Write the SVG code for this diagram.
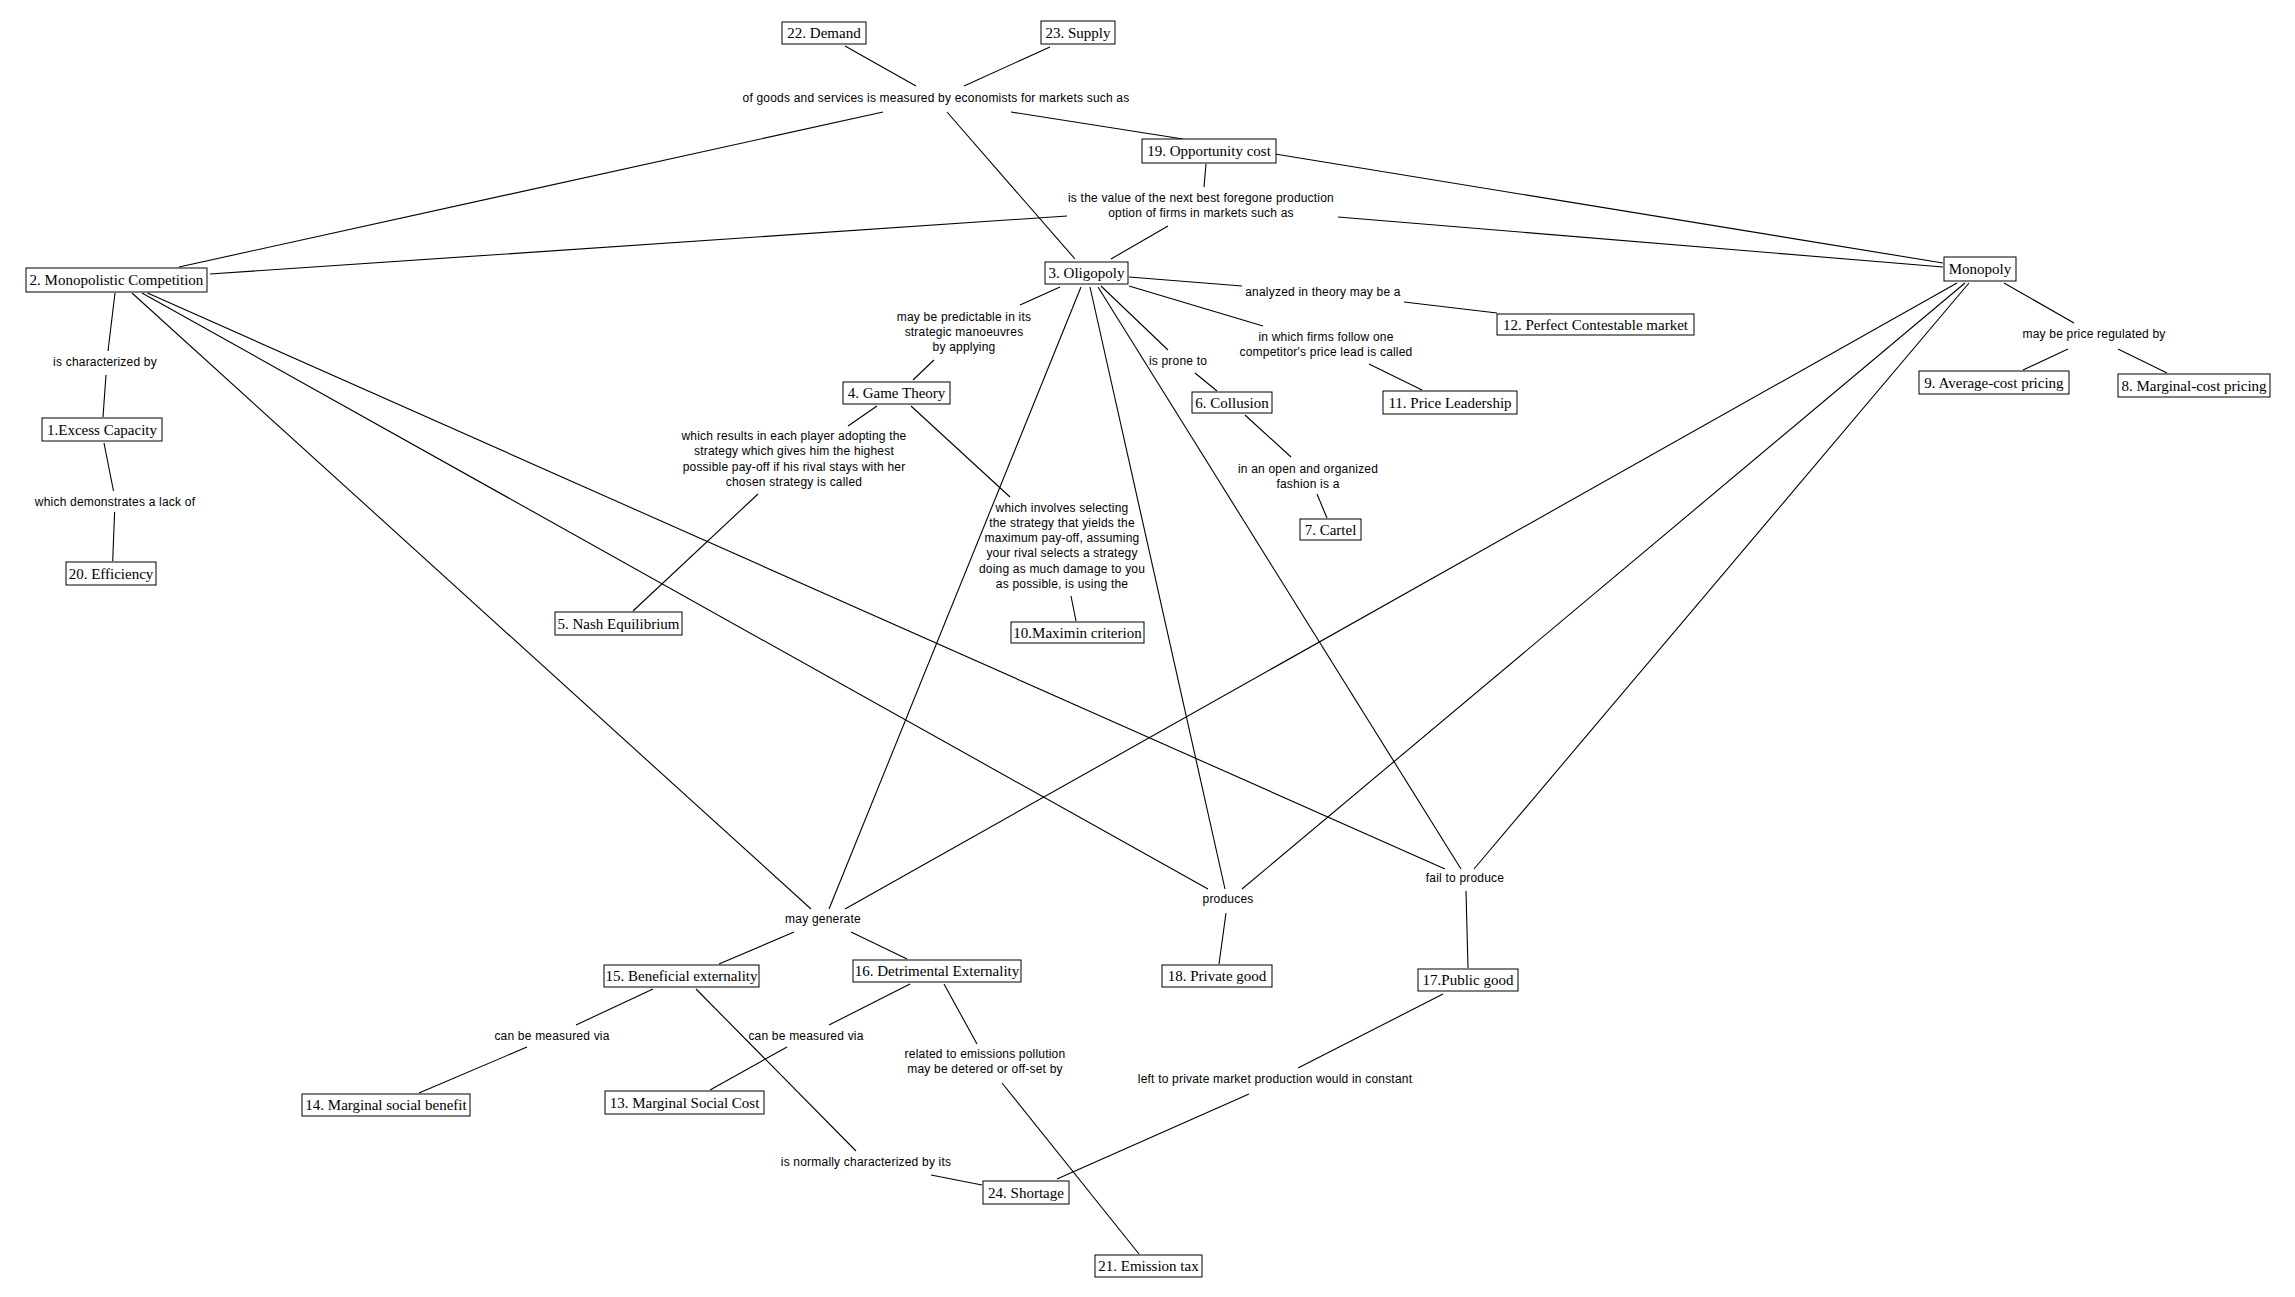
<svg xmlns="http://www.w3.org/2000/svg" width="2295" height="1297" viewBox="0 0 2295 1297">
<style>
.bg{fill:#fff}
.n rect{fill:#fff;stroke:#000;stroke-width:1}
.n text{font-family:"Liberation Serif","Times New Roman",serif;font-size:15px;fill:#000;text-anchor:middle}
.lb text{font-family:"Liberation Sans",Arial,sans-serif;font-size:12px;letter-spacing:0.2px;fill:#000;text-anchor:middle}
#connectors line{stroke:#000;stroke-width:1.1;fill:none}
</style>
<rect class="bg" x="0" y="0" width="2295" height="1297"/>
<g id="connectors">
<line x1="179" y1="267" x2="883" y2="112"/>
<line x1="210" y1="274" x2="1067" y2="216"/>
<line x1="115" y1="293" x2="108" y2="351"/>
<line x1="106" y1="375" x2="103" y2="417"/>
<line x1="132" y1="293" x2="811" y2="909"/>
<line x1="142" y1="293" x2="1208" y2="889"/>
<line x1="147.5" y1="293" x2="1445" y2="869"/>
<line x1="845" y1="46" x2="916" y2="86"/>
<line x1="1050" y1="47" x2="964" y2="86"/>
<line x1="947" y1="112" x2="1075" y2="259"/>
<line x1="1011" y1="112" x2="1183" y2="139"/>
<line x1="1206" y1="164" x2="1204" y2="187"/>
<line x1="1168" y1="226" x2="1111" y2="259"/>
<line x1="1338" y1="217" x2="1943" y2="267"/>
<line x1="1275" y1="154" x2="1943" y2="263"/>
<line x1="1060" y1="287" x2="1020" y2="305"/>
<line x1="934" y1="360" x2="913" y2="380"/>
<line x1="877" y1="406" x2="848" y2="426"/>
<line x1="758" y1="494" x2="633" y2="611"/>
<line x1="911" y1="406" x2="1010" y2="497"/>
<line x1="1071" y1="596" x2="1076" y2="621"/>
<line x1="1081" y1="287" x2="829" y2="909"/>
<line x1="1090" y1="287" x2="1225" y2="889"/>
<line x1="1098" y1="287" x2="1461" y2="869"/>
<line x1="1101" y1="286" x2="1168" y2="350"/>
<line x1="1195" y1="373" x2="1217" y2="391"/>
<line x1="1245" y1="415" x2="1291" y2="457"/>
<line x1="1317" y1="494" x2="1327" y2="518"/>
<line x1="1129" y1="277" x2="1242" y2="286"/>
<line x1="1404" y1="302" x2="1497" y2="313"/>
<line x1="1129" y1="286" x2="1263" y2="326"/>
<line x1="1369" y1="364" x2="1422" y2="390"/>
<line x1="2004" y1="283" x2="2074" y2="323"/>
<line x1="2068" y1="349" x2="2023" y2="370"/>
<line x1="2118" y1="349" x2="2167" y2="373"/>
<line x1="1957" y1="283" x2="845" y2="909"/>
<line x1="1965" y1="283" x2="1242" y2="889"/>
<line x1="1969" y1="283" x2="1474" y2="869"/>
<line x1="794" y1="932" x2="719" y2="964"/>
<line x1="851" y1="932" x2="907" y2="959"/>
<line x1="653" y1="989" x2="576" y2="1025"/>
<line x1="527" y1="1047" x2="419" y2="1093"/>
<line x1="696" y1="989" x2="856" y2="1151"/>
<line x1="931" y1="1175" x2="982" y2="1185"/>
<line x1="910" y1="984" x2="829" y2="1025"/>
<line x1="787" y1="1047" x2="710" y2="1090"/>
<line x1="944" y1="984" x2="977" y2="1044"/>
<line x1="1002" y1="1083" x2="1139" y2="1254"/>
<line x1="1057" y1="1179" x2="1249" y2="1094"/>
<line x1="1298" y1="1068" x2="1443" y2="994"/>
<line x1="1466" y1="891" x2="1468" y2="968"/>
<line x1="1226" y1="913" x2="1219" y2="964"/>
<line x1="104" y1="443" x2="113.5" y2="491"/>
<line x1="114.6" y1="512" x2="112.7" y2="561"/>
</g>
<g id="labels" class="lb">
<text x="936" y="102">of goods and services is measured by economists for markets such as</text>
<text x="1201" y="202">is the value of the next best foregone production</text>
<text x="1201" y="217">option of firms in markets such as</text>
<text x="105" y="366">is characterized by</text>
<text x="115" y="506">which demonstrates a lack of</text>
<text x="964" y="321">may be predictable in its</text>
<text x="964" y="336">strategic manoeuvres</text>
<text x="964" y="351">by applying</text>
<text x="794" y="440">which results in each player adopting the</text>
<text x="794" y="455">strategy which gives him the highest</text>
<text x="794" y="471">possible pay-off if his rival stays with her</text>
<text x="794" y="486">chosen strategy is called</text>
<text x="1062" y="512">which involves selecting</text>
<text x="1062" y="527">the strategy that yields the</text>
<text x="1062" y="542">maximum pay-off, assuming</text>
<text x="1062" y="557">your rival selects a strategy</text>
<text x="1062" y="573">doing as much damage to you</text>
<text x="1062" y="588">as possible, is using the</text>
<text x="1178" y="365">is prone to</text>
<text x="1308" y="473">in an open and organized</text>
<text x="1308" y="488">fashion is a</text>
<text x="1323" y="296">analyzed in theory may be a</text>
<text x="1326" y="341">in which firms follow one</text>
<text x="1326" y="356">competitor's price lead is called</text>
<text x="2094" y="338">may be price regulated by</text>
<text x="823" y="923">may generate</text>
<text x="1228" y="903">produces</text>
<text x="1465" y="882">fail to produce</text>
<text x="552" y="1040">can be measured via</text>
<text x="806" y="1040">can be measured via</text>
<text x="985" y="1058">related to emissions pollution</text>
<text x="985" y="1073">may be detered or off-set by</text>
<text x="866" y="1166">is normally characterized by its</text>
<text x="1275" y="1083">left to private market production would in constant</text>
</g>
<g id="n2" class="n"><rect x="26" y="268" width="181" height="24"/><text x="116.5" y="285">2. Monopolistic Competition</text></g>
<g id="n1" class="n"><rect x="42" y="418" width="120" height="23"/><text x="102" y="434.5">1.Excess Capacity</text></g>
<g id="n20" class="n"><rect x="66" y="562" width="90" height="23"/><text x="111" y="578.5">20. Efficiency</text></g>
<g id="n22" class="n"><rect x="782" y="22" width="84" height="22"/><text x="824" y="38">22. Demand</text></g>
<g id="n23" class="n"><rect x="1041" y="21" width="74" height="23"/><text x="1078" y="37.5">23. Supply</text></g>
<g id="n19" class="n"><rect x="1142" y="139" width="134" height="24"/><text x="1209" y="156">19. Opportunity cost</text></g>
<g id="n3" class="n"><rect x="1045" y="262" width="83" height="22"/><text x="1086.5" y="278">3. Oligopoly</text></g>
<g id="n4" class="n"><rect x="843" y="382" width="107" height="22"/><text x="896.5" y="398">4. Game Theory</text></g>
<g id="n5" class="n"><rect x="555" y="612" width="127" height="23"/><text x="618.5" y="628.5">5. Nash Equilibrium</text></g>
<g id="n10" class="n"><rect x="1011" y="622" width="133" height="21"/><text x="1077.5" y="637.5">10.Maximin criterion</text></g>
<g id="n6" class="n"><rect x="1192" y="392" width="80" height="21"/><text x="1232" y="407.5">6. Collusion</text></g>
<g id="n7" class="n"><rect x="1300" y="519" width="61" height="21"/><text x="1330.5" y="534.5">7. Cartel</text></g>
<g id="n12" class="n"><rect x="1497" y="314" width="197" height="21"/><text x="1595.5" y="329.5">12. Perfect Contestable market</text></g>
<g id="n11" class="n"><rect x="1383" y="391" width="134" height="23"/><text x="1450" y="407.5">11. Price Leadership</text></g>
<g id="nM" class="n"><rect x="1944" y="257" width="72" height="24"/><text x="1980" y="274">Monopoly</text></g>
<g id="n9" class="n"><rect x="1919" y="371" width="150" height="23"/><text x="1994" y="387.5">9. Average-cost pricing</text></g>
<g id="n8" class="n"><rect x="2118" y="374" width="152" height="23"/><text x="2194" y="390.5">8. Marginal-cost pricing</text></g>
<g id="n15" class="n"><rect x="604" y="965" width="155" height="22"/><text x="681.5" y="981">15. Beneficial externality</text></g>
<g id="n16" class="n"><rect x="853" y="960" width="168" height="22"/><text x="937" y="976">16. Detrimental Externality</text></g>
<g id="n14" class="n"><rect x="302" y="1094" width="168" height="22"/><text x="386" y="1110">14. Marginal social benefit</text></g>
<g id="n13" class="n"><rect x="605" y="1091" width="159" height="23"/><text x="684.5" y="1107.5">13. Marginal Social Cost</text></g>
<g id="n24" class="n"><rect x="983" y="1181" width="86" height="23"/><text x="1026" y="1197.5">24. Shortage</text></g>
<g id="n21" class="n"><rect x="1095" y="1255" width="107" height="22"/><text x="1148.5" y="1271">21. Emission tax</text></g>
<g id="n18" class="n"><rect x="1162" y="965" width="110" height="22"/><text x="1217" y="981">18. Private good</text></g>
<g id="n17" class="n"><rect x="1418" y="969" width="100" height="22"/><text x="1468" y="985">17.Public good</text></g>
</svg>
